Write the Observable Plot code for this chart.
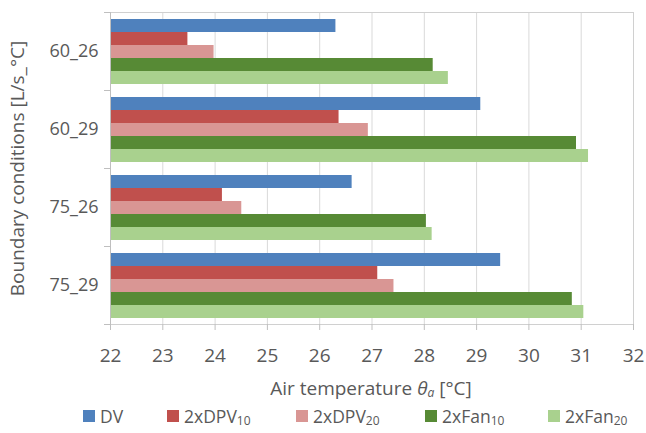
<!DOCTYPE html>
<html>
<head>
<meta charset="utf-8">
<script src="https://cdn.jsdelivr.net/npm/d3@7"></script>
<script src="https://cdn.jsdelivr.net/npm/@observablehq/plot@0.6"></script>
<style>
  html, body { margin: 0; padding: 0; background: #fff; }
  body { width: 646px; height: 433px; overflow: hidden; font-family: "Open Sans", sans-serif; color: #595959; }
  #xtitle { position: absolute; left: 0; top: 376px; width: 742px; text-align: center; font-size: 19px; line-height: 24px; }
  #legend { position: absolute; left: 0; top: 405px; width: 646px; font-size: 17.5px; line-height: 22px; }
  .item { position: absolute; top: 0; display: flex; align-items: center; white-space: nowrap; }
  .sw { width: 12px; height: 12px; margin-right: 5px; }
  sub { font-size: 12px; vertical-align: -2px; line-height: 0; }
</style>
</head>
<body>
<div id="chart"></div>
<div id="xtitle">Air temperature <i>θ</i><sub><i>a</i></sub> [°C]</div>
<div id="legend"></div>
<script>
const groups = ["60_26", "60_29", "75_26", "75_29"];
const series = ["DV", "2xDPV10", "2xDPV20", "2xFan10", "2xFan20"];
const seriesLabels = [["DV", ""], ["2xDPV", "10"], ["2xDPV", "20"], ["2xFan", "10"], ["2xFan", "20"]];
const colors = ["#4f81bd", "#c0504d", "#d99694", "#578a35", "#a9d18e"];
const DV      = [26.31, 29.08, 26.62, 29.46];
const DPV10   = [23.48, 26.37, 24.14, 27.11];
const DPV20   = [23.98, 26.93, 24.51, 27.42];
const Fan10   = [28.17, 30.91, 28.04, 30.83];
const Fan20   = [28.46, 31.14, 28.15, 31.05];
const xTicks = [22, 23, 24, 25, 26, 27, 28, 29, 30, 31, 32];

const valuesBySeries = [DV, DPV10, DPV20, Fan10, Fan20];
const data = [];
groups.forEach((g, gi) => series.forEach((s, si) => data.push({group: g, series: s, value: valuesBySeries[si][gi]})));

const plot = Plot.plot({
  width: 646,
  height: 372,
  marginLeft: 110,
  marginRight: 13,
  marginTop: 11,
  marginBottom: 47,
  style: {fontFamily: "Open Sans, sans-serif", color: "#595959", background: "#fff"},
  x: {domain: [22, 32]},
  y: {domain: series, paddingInner: 0, paddingOuter: 0.47, axis: null},
  fy: {domain: groups, padding: 0, axis: null},
  color: {domain: series, range: colors},
  marks: [
    Plot.gridX(xTicks, {stroke: "#d9d9d9", strokeOpacity: 1}),
    Plot.barX(data, {x1: 22, x2: "value", y: "series", fy: "group", fill: "series"}),
    Plot.frame({facet: "super", stroke: "#d0d0d0"}),
    Plot.frame({anchor: "top", insetLeft: -6, insetRight: 523, stroke: "#bfbfbf"}),
    Plot.frame({anchor: "bottom", insetLeft: -6, insetRight: 523, stroke: "#bfbfbf"}),
    Plot.ruleX([22], {stroke: "#bfbfbf"}),
    Plot.axisX(xTicks, {tickSize: 6, tickPadding: 18, stroke: "#bfbfbf", fill: "#595959", fontSize: 19, label: null, tickFormat: d => String(d)}),
    Plot.axisFy({anchor: "left", tickSize: 0, tickPadding: 12, fontSize: 18, fill: "#595959",
                 label: "Boundary conditions [L/s_°C]", labelAnchor: "center", labelOffset: 100, labelArrow: "none"})
  ]
});
document.getElementById("chart").appendChild(plot);
plot.querySelectorAll("[aria-label='fy-axis label'] text, [aria-label='fy-axis label']").forEach(el => el.setAttribute("font-size", 19));

const legend = document.getElementById("legend");
const lefts = [83, 167, 296, 425, 548];
seriesLabels.forEach(([base, sub], i) => {
  const it = document.createElement("div");
  it.className = "item";
  it.style.left = lefts[i] + "px";
  it.innerHTML = `<span class="sw" style="background:${colors[i]}"></span><span>${base}${sub ? `<sub>${sub}</sub>` : ""}</span>`;
  legend.appendChild(it);
});
</script>
</body>
</html>
